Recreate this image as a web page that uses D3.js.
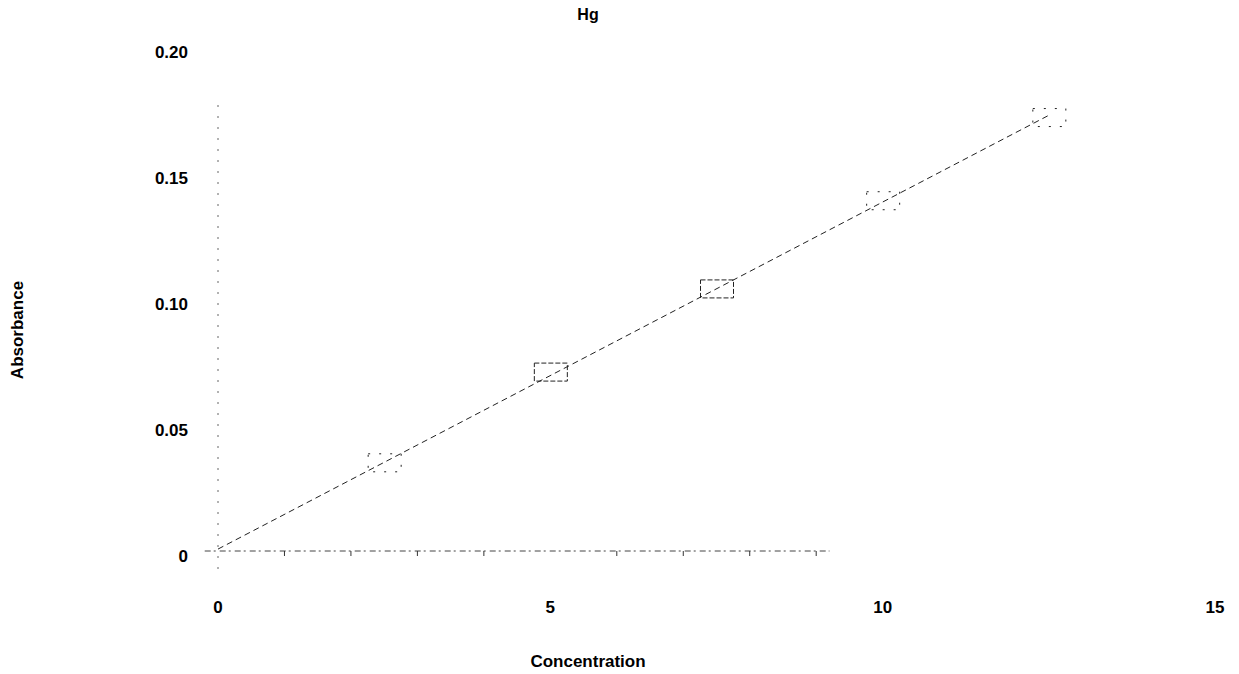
<!DOCTYPE html>
<html>
<head>
<meta charset="utf-8">
<script src="https://cdn.jsdelivr.net/npm/d3@7/dist/d3.min.js"></script>
<style>
  html, body { margin: 0; padding: 0; background: #fff; }
  svg { display: block; }
  text { font-family: "Liberation Sans", Arial, sans-serif; font-weight: bold; fill: #000; }
</style>
</head>
<body>
<svg id="chart" width="1239" height="674"></svg>
<script>
// Calibration standards for Hg
const concentrations = [0, 2.5, 5, 7.5, 10, 12.5];
const absorbances = [0.000, 0.035, 0.071, 0.104, 0.139, 0.172];

const xTicks = [0, 5, 10, 15];
const xMinorTicks = [1, 2, 3, 4, 6, 7, 8, 9];
const yTicks = [0, 0.05, 0.10, 0.15, 0.20];
const yTickLabels = ["0", "0.05", "0.10", "0.15", "0.20"];

const titleText = "Hg";
const xTitle = "Concentration";
const yTitle = "Absorbance";

const svg = d3.select("#chart");

const x = d3.scaleLinear().domain([0, 15]).range([218, 1215]);
const y = d3.scaleLinear().domain([0, 0.2]).range([551, 47]);

// Axis lines (light, broken)
svg.append("line")
  .attr("x1", x(-0.2)).attr("x2", x(9.2))
  .attr("y1", y(0)).attr("y2", y(0))
  .attr("stroke", "#444").attr("stroke-width", 1)
  .attr("stroke-dasharray", "6,3,2,4");

svg.append("line")
  .attr("x1", x(0)).attr("x2", x(0))
  .attr("y1", y(0) + 18).attr("y2", y(0.18))
  .attr("stroke", "#666").attr("stroke-width", 1)
  .attr("stroke-dasharray", "2,9");

// Minor ticks along the concentration axis
svg.append("g").selectAll("line")
  .data(xMinorTicks)
  .join("line")
  .attr("x1", d => x(d)).attr("x2", d => x(d))
  .attr("y1", y(0)).attr("y2", y(0) + 5)
  .attr("stroke", "#333").attr("stroke-width", 1);

// Tick labels
svg.append("g").selectAll("text")
  .data(xTicks)
  .join("text")
  .attr("x", d => x(d))
  .attr("y", 613)
  .attr("text-anchor", "middle")
  .attr("font-size", 17)
  .text(d => d);

svg.append("g").selectAll("text")
  .data(yTicks)
  .join("text")
  .attr("x", 188)
  .attr("y", d => y(d) + 5)
  .attr("dy", "0.35em")
  .attr("text-anchor", "end")
  .attr("font-size", 17)
  .text((d, i) => yTickLabels[i]);

// Least-squares calibration line
const mx = d3.mean(concentrations), my = d3.mean(absorbances);
const slope = d3.sum(concentrations, (c, i) => (c - mx) * (absorbances[i] - my)) /
              d3.sum(concentrations, c => (c - mx) * (c - mx));
const intercept = my - slope * mx;
const fitEnds = [0, d3.max(concentrations)];

svg.append("path")
  .datum(fitEnds)
  .attr("fill", "none")
  .attr("stroke", "#222")
  .attr("stroke-width", 1)
  .attr("stroke-dasharray", "6,4")
  .attr("d", d3.line().x(d => x(d)).y(d => y(intercept + slope * d)));

// Standard markers
svg.append("g").selectAll("rect")
  .data(concentrations.map((c, i) => ({c, a: absorbances[i]})).filter(d => d.c > 0))
  .join("rect")
  .attr("x", d => x(d.c) - 16)
  .attr("y", d => y(d.a) - 9)
  .attr("width", 33)
  .attr("height", 18)
  .attr("fill", "none")
  .attr("stroke", "#222")
  .attr("stroke-width", 1)
  .attr("stroke-dasharray", d => (d.c === 5 || d.c === 7.5) ? "5,2" : "2,9");

// Titles
svg.append("text")
  .attr("x", 588).attr("y", 20)
  .attr("text-anchor", "middle")
  .attr("font-size", 16)
  .text(titleText);

svg.append("text")
  .attr("x", 588).attr("y", 667)
  .attr("text-anchor", "middle")
  .attr("font-size", 17)
  .text(xTitle);

svg.append("text")
  .attr("transform", "translate(23,330) rotate(-90)")
  .attr("text-anchor", "middle")
  .attr("font-size", 17)
  .text(yTitle);
</script>
</body>
</html>
